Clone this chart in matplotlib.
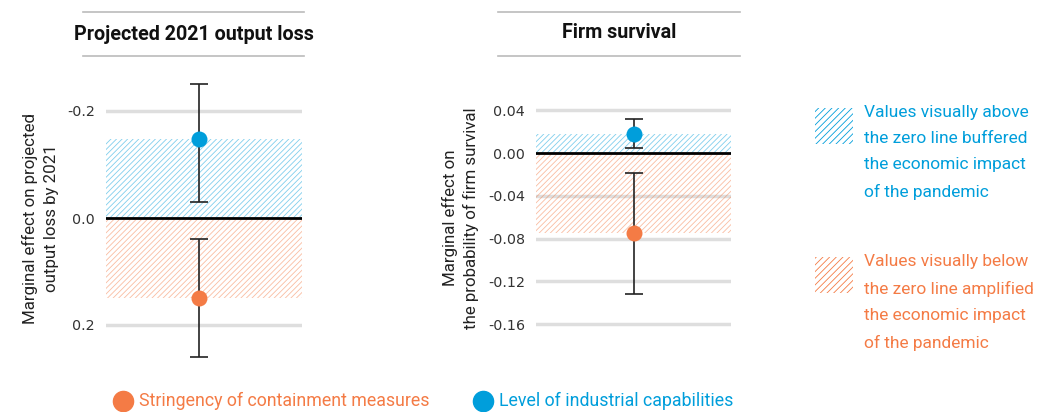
import matplotlib.pyplot as plt
from matplotlib.lines import Line2D
from matplotlib.patches import Rectangle
from matplotlib import font_manager

names = set(f.name for f in font_manager.fontManager.ttflist)
narrow = 'Liberation Sans Narrow' if 'Liberation Sans Narrow' in names else 'Roboto'
plt.rcParams['font.family'] = [narrow, 'DejaVu Sans']
plt.rcParams['hatch.linewidth'] = 0.6

ORANGE = '#F47B45'
BLUE = '#009EDB'

# panel 1: projected 2021 output loss (axis drawn inverted)
loss_labels = ['Stringency of containment measures', 'Level of industrial capabilities']
loss_values = [0.15, -0.148]
loss_low = [0.04, -0.25]
loss_high = [0.26, -0.03]
loss_ticks = [-0.2, 0.0, 0.2]
loss_ticklabels = ['-0.2', '0.0', '0.2']

# panel 2: firm survival
surv_values = [-0.075, 0.018]
surv_low = [-0.132, 0.005]
surv_high = [-0.019, 0.032]
surv_ticks = [0.04, 0.0, -0.04, -0.08, -0.12, -0.16]
surv_ticklabels = ['0.04', '0.00', '-0.04', '-0.08', '-0.12', '-0.16']

colors = [ORANGE, BLUE]

fig = plt.figure(figsize=(10.41, 4.12), dpi=100)

def px(x, y):
    return x / 1041, 1 - y / 412

ax1 = fig.add_axes([106 / 1041, 1 - 378.5 / 412, 196 / 1041, 321 / 412])
ax2 = fig.add_axes([536 / 1041, 1 - 378.5 / 412, 195 / 1041, 321 / 412])


def draw_panel(ax, values, low, high, ticks, ticklabels, ylim, xc):
    ax.set_xlim(-1, 1)
    ax.set_ylim(*ylim)
    for t in ticks:
        if t != 0:
            ax.axhline(t, color='#dedede', lw=2.5, zorder=0)
    for v, c in zip(values, colors):
        ax.fill_between([-1, 1], 0, v, facecolor='none', edgecolor=c,
                        alpha=0.5, hatch='//////', lw=0, zorder=1)
    ax.axhline(0, color='black', lw=2, zorder=2)
    for v, lo, hi, c in zip(values, low, high, colors):
        ax.errorbar([xc], [v], yerr=[[abs(v - lo)], [abs(hi - v)]], fmt='none',
                    ecolor='#222222', elinewidth=1.2, capsize=6.5, capthick=1.2, zorder=3)
        ax.plot([xc], [v], 'o', color=c, ms=11.5, mew=0, zorder=4)
    ax.set_yticks(ticks)
    ax.set_yticklabels(ticklabels, family='DejaVu Sans', fontsize=10.3, color='#333333')
    ax.tick_params(axis='y', length=0, pad=8)
    ax.set_xticks([])
    for s in ax.spines.values():
        s.set_visible(False)
    ax.patch.set_alpha(0)


draw_panel(ax1, loss_values, loss_low, loss_high, loss_ticks, loss_ticklabels,
           (0.3, -0.3), -0.05)
draw_panel(ax2, surv_values, surv_low, surv_high, surv_ticks, surv_ticklabels,
           (-0.2107, 0.0893), 0.01)

ax1.set_ylabel('Marginal effect on projected\noutput loss by 2021', fontsize=12.2,
               color='#222222', labelpad=6, linespacing=1.45)
ax2.set_ylabel('Marginal effect on\nthe probability of firm survival', fontsize=12.2,
               color='#222222', labelpad=6, linespacing=1.45)

# titles with rules above and below
for (x0, x1, xt, yt, title) in [(83, 304, 194, 35, 'Projected 2021 output loss'),
                                (498, 740, 619, 33, 'Firm survival')]:
    for yy in (12, 56):
        fig.add_artist(Line2D([x0 / 1041, x1 / 1041], [1 - yy / 412] * 2,
                              color='#bbbbbb', lw=1.2))
    fig.text(*px(xt, yt), title, ha='center', va='center', fontsize=14.2,
             fontweight='bold', color='#111111')

# bottom legend
for (xc, xt, lab, c) in [(123, 139, loss_labels[0], ORANGE), (483, 499, loss_labels[1], BLUE)]:
    fig.add_artist(Line2D([xc / 1041], [1 - 401 / 412], marker='o', ms=14.5,
                          color=c, mec=c, lw=0))
    fig.text(*px(xt, 401), lab, ha='left', va='center', fontsize=12.8, color=c)

# right legend
notes = ['Values visually above\nthe zero line buffered\nthe economic impact\nof the pandemic',
         'Values visually below\nthe zero line amplified\nthe economic impact\nof the pandemic']
for (ytop, note, c) in [(108, notes[0], BLUE), (257, notes[1], ORANGE)]:
    fig.add_artist(Rectangle(px(815, ytop + 36), 38 / 1041, 36 / 412, facecolor='none',
                             edgecolor=c, hatch='/////', lw=0, transform=fig.transFigure))
    fig.text(*px(864, ytop - 3), note, ha='left', va='top', fontsize=12.5, color=c,
             linespacing=1.93)

fig.savefig('out.png', dpi=100)
